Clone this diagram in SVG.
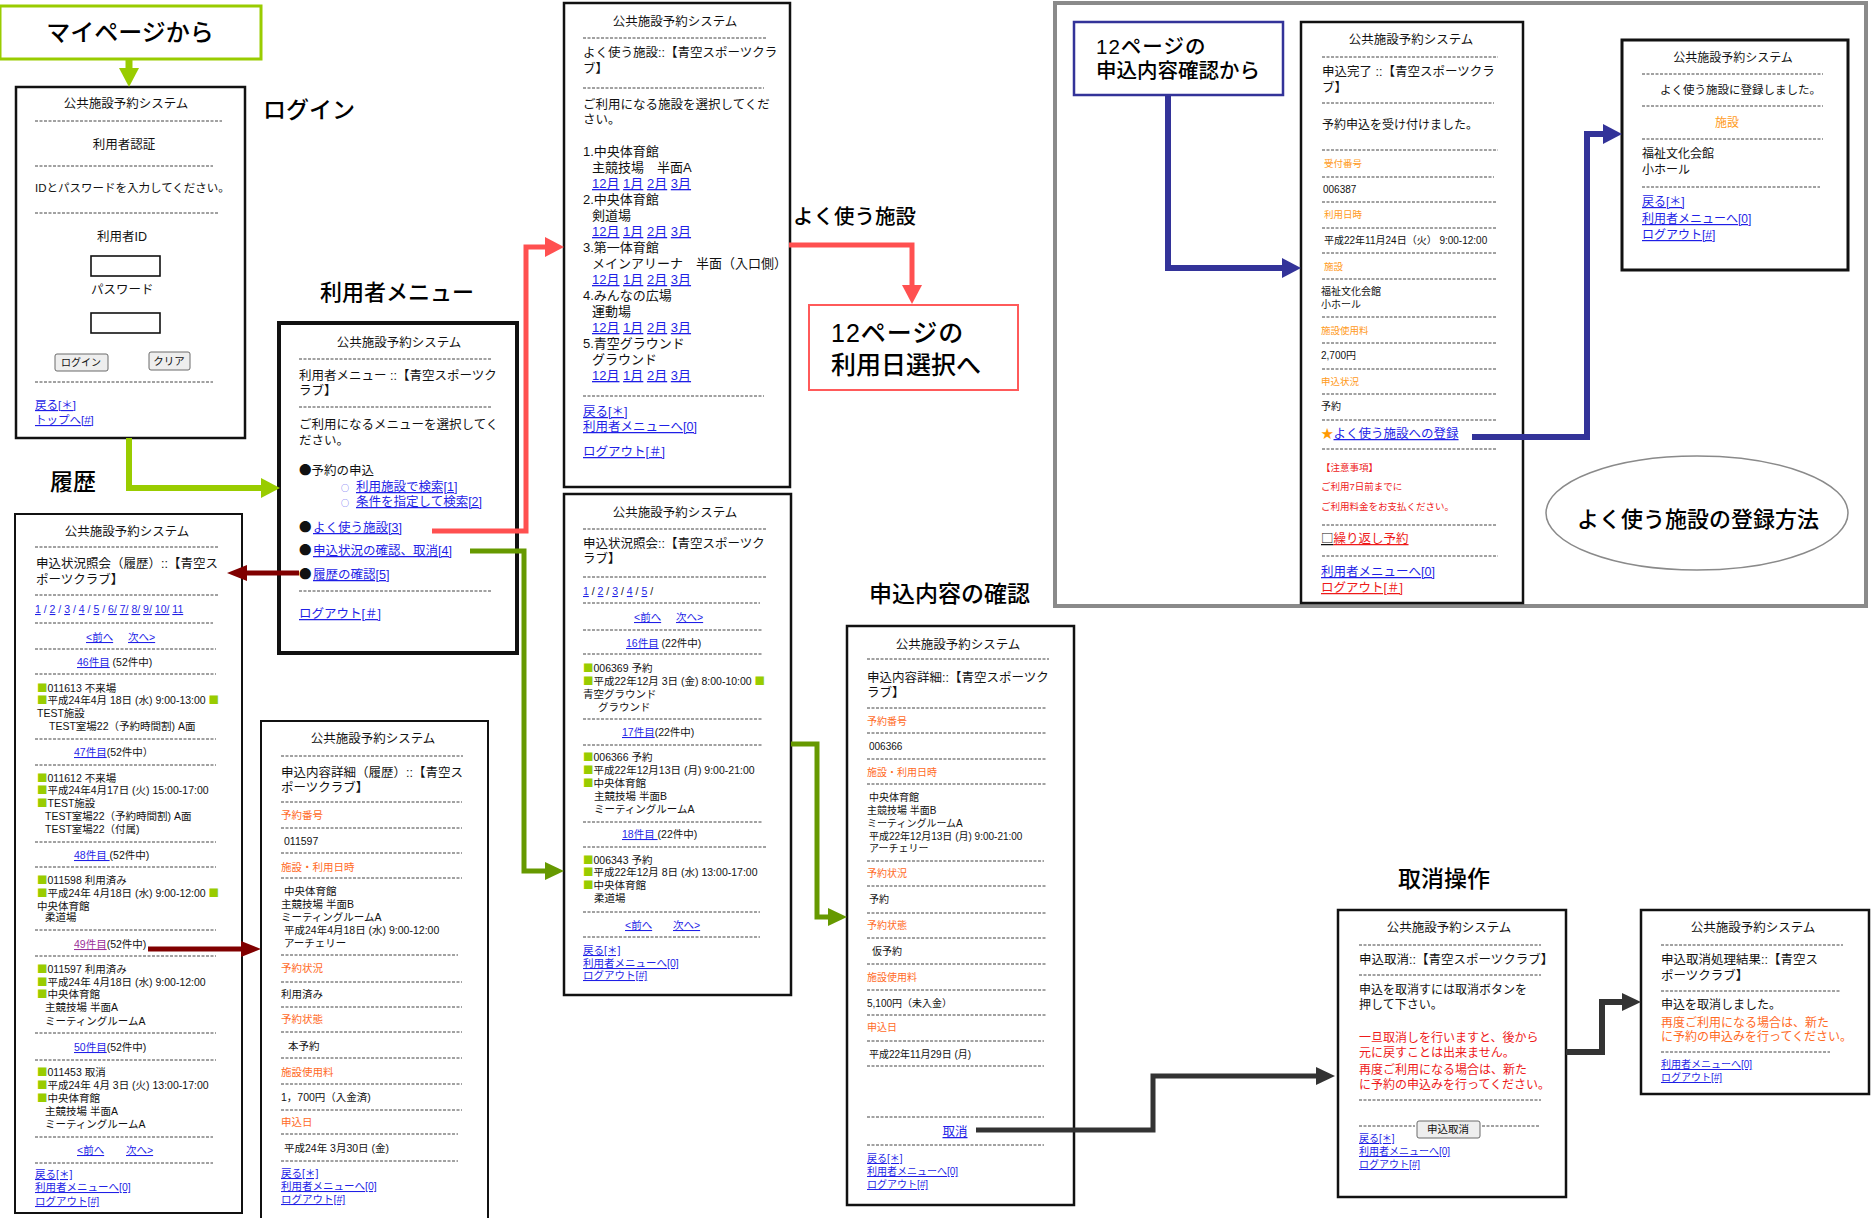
<svg xmlns="http://www.w3.org/2000/svg" width="1874" height="1218" viewBox="0 0 1874 1218">
<style>
text{font-family:"Liberation Sans","Noto Sans CJK JP",sans-serif;fill:#111}
.sym{font-family:"Noto Sans CJK JP",sans-serif}
.lk{fill:#1f1fe6;text-decoration:underline}
.pu{fill:#9a2f9a;text-decoration:underline}
.or{fill:#ff6a1f}
.oy{fill:#ff9a1a}
.rd{fill:#ee1a1a}
.rl{fill:#ee1a1a;text-decoration:underline}
.g{fill:#99cc00;font-family:"Noto Sans CJK JP",sans-serif}
.big{font-size:23px;fill:#000;font-weight:500}
.dash{stroke:#444;stroke-width:1;stroke-dasharray:3 1.5;fill:none}
.box{fill:#fff;stroke:#111}
.inp{fill:#fff;stroke:#111;stroke-width:1.6}
.btn{fill:#eeeeee;stroke:#6a6a6a;stroke-width:1}
.c{fill:none;stroke-linejoin:miter}
</style>
<defs>
<marker id="mG" markerUnits="userSpaceOnUse" markerWidth="20" markerHeight="20" refX="0" refY="10" orient="auto"><path d="M0,0 L19,10 L0,20 z" fill="#99cc00"/></marker>
<marker id="mO" markerUnits="userSpaceOnUse" markerWidth="20" markerHeight="20" refX="0" refY="10" orient="auto"><path d="M0,1 L19,10 L0,19 z" fill="#669900"/></marker>
<marker id="mR" markerUnits="userSpaceOnUse" markerWidth="20" markerHeight="20" refX="0" refY="10" orient="auto"><path d="M0,0 L19,10 L0,20 z" fill="#ff5050"/></marker>
<marker id="mD" markerUnits="userSpaceOnUse" markerWidth="20" markerHeight="16" refX="0" refY="8" orient="auto"><path d="M0,0 L20,8 L0,16 z" fill="#800000"/></marker>
<marker id="mB" markerUnits="userSpaceOnUse" markerWidth="20" markerHeight="20" refX="0" refY="10" orient="auto"><path d="M0,0 L19,10 L0,20 z" fill="#333399"/></marker>
<marker id="mK" markerUnits="userSpaceOnUse" markerWidth="20" markerHeight="20" refX="0" refY="10" orient="auto"><path d="M0,1 L19,10 L0,19 z" fill="#333333"/></marker>
</defs>

<rect x="0" y="0" width="1874" height="1218" fill="#fff"/>

<!-- gray frame -->
<g id="frame">
<rect x="1055" y="3" width="811" height="603" fill="none" stroke="#8a8a8a" stroke-width="4"/>
</g>

<!-- labels -->
<g id="label-mypage">
<rect x="0" y="6" width="261" height="53" fill="#fff" stroke="#99cc00" stroke-width="3"/>
<text x="130" y="41" text-anchor="middle" style="font-size:24px;fill:#000;font-weight:500">マイページから</text>
</g>
<g id="label-login"><text class="big" x="263" y="118">ログイン</text></g>
<g id="label-menu"><text class="big" x="320" y="300" style="font-size:22px">利用者メニュー</text></g>
<g id="label-history"><text class="big" x="50" y="490">履歴</text></g>
<g id="label-fav"><text class="big" x="793" y="224" style="font-size:20.5px">よく使う施設</text></g>
<g id="label-confirm"><text class="big" x="869" y="602">申込内容の確認</text></g>
<g id="label-cancel"><text class="big" x="1398" y="887">取消操作</text></g>
<g id="to-p12">
<rect x="809" y="305" width="209" height="85" fill="#fff" stroke="#ff5a5a" stroke-width="2"/>
<text x="831" y="342" style="font-size:25px;fill:#000;font-weight:500;letter-spacing:1px">12ページの</text>
<text x="831" y="374" style="font-size:25px;fill:#000;font-weight:500">利用日選択へ</text>
</g>
<g id="from-p12">
<rect x="1074" y="22" width="209" height="73" fill="#fff" stroke="#333399" stroke-width="2.5"/>
<text x="1096" y="54" style="font-size:20.5px;fill:#000;font-weight:500;letter-spacing:1px">12ページの</text>
<text x="1096" y="78" style="font-size:20.5px;fill:#000;font-weight:500">申込内容確認から</text>
</g>
<g id="howto">
<ellipse cx="1697" cy="513" rx="151" ry="57" fill="#fff" stroke="#8a8a8a" stroke-width="1.5"/>
<text x="1698" y="527" text-anchor="middle" style="font-size:22px;fill:#000;font-weight:500">よく使う施設の登録方法</text>
</g>

<!-- login -->
<g id="login" font-size="12.5">
<rect class="box" x="16" y="87" width="229" height="351" stroke-width="2.5"/>
<text x="126" y="108" text-anchor="middle">公共施設予約システム</text>
<line class="dash" x1="35" y1="121" x2="222" y2="121"/>
<text x="124" y="149" text-anchor="middle">利用者認証</text>
<line class="dash" x1="35" y1="166" x2="213" y2="166"/>
<text x="35" y="192" font-size="11.5">IDとパスワードを入力してください。</text>
<line class="dash" x1="35" y1="213" x2="218" y2="213"/>
<text x="122" y="241" text-anchor="middle">利用者ID</text>
<rect class="inp" x="91" y="256" width="69" height="20"/>
<text x="91" y="294">パスワード</text>
<rect class="inp" x="91" y="313" width="69" height="20"/>
<rect class="btn" x="55" y="354" width="53" height="17" rx="2"/>
<text x="81" y="366" text-anchor="middle" font-size="10">ログイン</text>
<rect class="btn" x="149" y="352" width="41" height="18" rx="2"/>
<text x="169" y="365" text-anchor="middle" font-size="10.5">クリア</text>
<line class="dash" x1="35" y1="382" x2="213" y2="382"/>
<text class="lk" x="35" y="409" font-size="11.5">戻る[＊]</text>
<text class="lk" x="35" y="424" font-size="11.5">トップへ[#]</text>
</g>

<!-- user menu -->
<g id="menu" font-size="12.5">
<rect class="box" x="279" y="323" width="238" height="330" stroke-width="4"/>
<text x="399" y="347" text-anchor="middle">公共施設予約システム</text>
<line class="dash" x1="299" y1="359" x2="491" y2="359"/>
<text x="299" y="380">利用者メニュー ::【青空スポーツク</text>
<text x="299" y="395">ラブ】</text>
<line class="dash" x1="299" y1="407" x2="491" y2="407"/>
<text x="299" y="429">ご利用になるメニューを選択してく</text>
<text x="299" y="445">ださい。</text>
<text x="299" y="475"><tspan class="sym">●</tspan>予約の申込</text>
<text class="sym" x="341" y="491" font-size="8" style="fill:#3a3aee">○</text>
<text class="lk" x="356" y="491">利用施設で検索[1]</text>
<text class="sym" x="341" y="506" font-size="8" style="fill:#3a3aee">○</text>
<text class="lk" x="356" y="506">条件を指定して検索[2]</text>
<text class="sym" x="299" y="532">●</text><text class="lk" x="313" y="532">よく使う施設[3]</text>
<text class="sym" x="299" y="555">●</text><text class="lk" x="313" y="555">申込状況の確認、取消[4]</text>
<text class="sym" x="299" y="579">●</text><text class="lk" x="313" y="579">履歴の確認[5]</text>
<line class="dash" x1="299" y1="591" x2="491" y2="591"/>
<text class="lk" x="299" y="618">ログアウト[＃]</text>
</g>

<!-- history list -->
<g id="history" font-size="10.5">
<rect class="box" x="15" y="514" width="227" height="699" stroke-width="2"/>
<text x="127" y="536" text-anchor="middle" font-size="12.5">公共施設予約システム</text>
<line class="dash" x1="35" y1="547" x2="218" y2="547"/>
<text x="36" y="568" font-size="12.5">申込状況照会（履歴）::【青空ス</text>
<text x="36" y="584" font-size="12.5">ポーツクラブ】</text>
<line class="dash" x1="35" y1="595" x2="218" y2="595"/>
<text x="35" y="613" style="fill:#1f1fe6"><tspan class="lk">1</tspan> / <tspan class="lk">2</tspan> / <tspan class="lk">3</tspan> / <tspan class="lk">4</tspan> / <tspan class="lk">5</tspan> / <tspan class="lk">6/</tspan> <tspan class="lk">7/</tspan> <tspan class="lk">8/</tspan> <tspan class="lk">9/</tspan> <tspan class="lk">10/</tspan> <tspan class="lk">11</tspan></text>
<line class="dash" x1="35" y1="623" x2="213" y2="623"/>
<text class="lk" x="86" y="641">&lt;前へ</text><text class="lk" x="128" y="641">次へ&gt;</text>
<line class="dash" x1="35" y1="649" x2="216" y2="649"/>
<text x="77" y="666"><tspan class="lk">46件目</tspan> (52件中)</text>
<line class="dash" x1="35" y1="674" x2="216" y2="674"/>
<text x="37" y="692"><tspan class="g">■</tspan>011613  不来場</text>
<text x="37" y="704"><tspan class="g">■</tspan>平成24年4月 18日 (水) 9:00-13:00 <tspan class="g">■</tspan></text>
<text x="37" y="717">TEST施設</text>
<text x="49" y="730">TEST室場22（予約時間割)  A面</text>
<line class="dash" x1="35" y1="739" x2="216" y2="739"/>
<text x="74" y="756"><tspan class="lk">47件目</tspan>(52件中）</text>
<line class="dash" x1="35" y1="765" x2="216" y2="765"/>
<text x="37" y="782"><tspan class="g">■</tspan>011612  不来場</text>
<text x="37" y="794"><tspan class="g">■</tspan>平成24年4月17日 (火) 15:00-17:00</text>
<text x="37" y="807"><tspan class="g">■</tspan>TEST施設</text>
<text x="45" y="820">TEST室場22（予約時間割)  A面</text>
<text x="45" y="833">TEST室場22（付属)</text>
<line class="dash" x1="35" y1="842" x2="216" y2="842"/>
<text x="74" y="859"><tspan class="lk">48件目 </tspan>(52件中)</text>
<line class="dash" x1="35" y1="867" x2="216" y2="867"/>
<text x="37" y="884"><tspan class="g">■</tspan>011598  利用済み</text>
<text x="37" y="897"><tspan class="g">■</tspan>平成24年 4月18日 (水) 9:00-12:00 <tspan class="g">■</tspan></text>
<text x="37" y="910">中央体育館</text>
<text x="45" y="921">柔道場</text>
<line class="dash" x1="35" y1="930" x2="216" y2="930"/>
<text x="74" y="948"><tspan class="pu">49件目</tspan>(52件中)</text>
<line class="dash" x1="35" y1="956" x2="216" y2="956"/>
<text x="37" y="973"><tspan class="g">■</tspan>011597  利用済み</text>
<text x="37" y="986"><tspan class="g">■</tspan>平成24年 4月18日 (水) 9:00-12:00</text>
<text x="37" y="998"><tspan class="g">■</tspan>中央体育館</text>
<text x="45" y="1011">主競技場 半面A</text>
<text x="45" y="1025">ミーティングルームA</text>
<line class="dash" x1="35" y1="1033" x2="216" y2="1033"/>
<text x="74" y="1051"><tspan class="lk">50件目</tspan>(52件中)</text>
<line class="dash" x1="35" y1="1060" x2="216" y2="1060"/>
<text x="37" y="1076"><tspan class="g">■</tspan>011453  取消</text>
<text x="37" y="1089"><tspan class="g">■</tspan>平成24年  4月 3日 (火) 13:00-17:00</text>
<text x="37" y="1102"><tspan class="g">■</tspan>中央体育館</text>
<text x="45" y="1115">主競技場  半面A</text>
<text x="45" y="1128">ミーティングルームA</text>
<line class="dash" x1="35" y1="1137" x2="213" y2="1137"/>
<text class="lk" x="77" y="1154">&lt;前へ</text><text class="lk" x="126" y="1154">次へ&gt;</text>
<line class="dash" x1="35" y1="1163" x2="213" y2="1163"/>
<text class="lk" x="35" y="1178">戻る[＊]</text>
<text class="lk" x="35" y="1191">利用者メニューへ[0]</text>
<text class="lk" x="35" y="1205">ログアウト[#]</text>
</g>

<!-- history detail -->
<g id="history-detail" font-size="10.5">
<rect class="box" x="261" y="721" width="227" height="510" stroke-width="2"/>
<text x="373" y="743" text-anchor="middle" font-size="12.5">公共施設予約システム</text>
<line class="dash" x1="281" y1="756" x2="463" y2="756"/>
<text x="281" y="777" font-size="12.5">申込内容詳細（履歴）::【青空ス</text>
<text x="281" y="792" font-size="12.5">ポーツクラブ】</text>
<line class="dash" x1="281" y1="802" x2="462" y2="802"/>
<text class="or" x="281" y="819">予約番号</text>
<line class="dash" x1="281" y1="828" x2="462" y2="828"/>
<text x="284" y="845">011597</text>
<line class="dash" x1="281" y1="853" x2="462" y2="853"/>
<text class="or" x="281" y="871">施設・利用日時</text>
<line class="dash" x1="281" y1="878" x2="462" y2="878"/>
<text x="284" y="895">中央体育館</text>
<text x="281" y="908">主競技場 半面B</text>
<text x="281" y="921">ミーティングルームA</text>
<text x="284" y="934">平成24年4月18日 (水)  9:00-12:00</text>
<text x="284" y="947">アーチェリー</text>
<line class="dash" x1="281" y1="955" x2="458" y2="955"/>
<text class="or" x="281" y="972">予約状況</text>
<line class="dash" x1="281" y1="982" x2="462" y2="982"/>
<text x="281" y="998">利用済み</text>
<line class="dash" x1="281" y1="1007" x2="462" y2="1007"/>
<text class="or" x="281" y="1023">予約状態</text>
<line class="dash" x1="281" y1="1032" x2="462" y2="1032"/>
<text x="288" y="1050">本予約</text>
<line class="dash" x1="281" y1="1058" x2="462" y2="1058"/>
<text class="or" x="281" y="1076">施設使用料</text>
<line class="dash" x1="281" y1="1084" x2="462" y2="1084"/>
<text x="281" y="1101">1，700円（入金済)</text>
<line class="dash" x1="281" y1="1110" x2="462" y2="1110"/>
<text class="or" x="281" y="1126">申込日</text>
<line class="dash" x1="281" y1="1134" x2="458" y2="1134"/>
<text x="284" y="1152">平成24年 3月30日 (金)</text>
<line class="dash" x1="281" y1="1161" x2="458" y2="1161"/>
<text class="lk" x="281" y="1177">戻る[＊]</text>
<text class="lk" x="281" y="1190">利用者メニューへ[0]</text>
<text class="lk" x="281" y="1203">ログアウト[#]</text>
</g>

<!-- favourite facilities -->
<g id="favorites" font-size="13">
<rect class="box" x="564" y="3" width="226" height="484" stroke-width="2.5"/>
<text x="675" y="26" text-anchor="middle" font-size="12.5">公共施設予約システム</text>
<line class="dash" x1="583" y1="38" x2="766" y2="38"/>
<text x="583" y="57" font-size="12.5">よく使う施設::【青空スポーツクラ</text>
<text x="583" y="73" font-size="12.5">ブ】</text>
<line class="dash" x1="583" y1="88" x2="764" y2="88"/>
<text x="583" y="109" font-size="12.5">ご利用になる施設を選択してくだ</text>
<text x="583" y="124" font-size="12.5">さい。</text>
<text x="583" y="156">1.中央体育館</text>
<text x="592" y="172">主競技場　半面A</text>
<text x="592" y="188"><tspan class="lk">12月</tspan> <tspan class="lk">1月</tspan> <tspan class="lk">2月</tspan> <tspan class="lk">3月</tspan></text>
<text x="583" y="204">2.中央体育館</text>
<text x="592" y="220">剣道場</text>
<text x="592" y="236"><tspan class="lk">12月</tspan> <tspan class="lk">1月</tspan> <tspan class="lk">2月</tspan> <tspan class="lk">3月</tspan></text>
<text x="583" y="252">3.第一体育館</text>
<text x="592" y="268">メインアリーナ　半面（入口側）</text>
<text x="592" y="284"><tspan class="lk">12月</tspan> <tspan class="lk">1月</tspan> <tspan class="lk">2月</tspan> <tspan class="lk">3月</tspan></text>
<text x="583" y="300">4.みんなの広場</text>
<text x="592" y="316">運動場</text>
<text x="592" y="332"><tspan class="lk">12月</tspan> <tspan class="lk">1月</tspan> <tspan class="lk">2月</tspan> <tspan class="lk">3月</tspan></text>
<text x="583" y="348">5.青空グラウンド</text>
<text x="592" y="364">グラウンド</text>
<text x="592" y="380"><tspan class="lk">12月</tspan> <tspan class="lk">1月</tspan> <tspan class="lk">2月</tspan> <tspan class="lk">3月</tspan></text>
<line class="dash" x1="583" y1="396" x2="764" y2="396"/>
<text class="lk" x="583" y="416" font-size="12.5">戻る[＊]</text>
<text class="lk" x="583" y="431" font-size="12.5">利用者メニューへ[0]</text>
<text class="lk" x="583" y="456" font-size="12.5">ログアウト[＃]</text>
</g>

<!-- application status list -->
<g id="status" font-size="10.5">
<rect class="box" x="564" y="494" width="227" height="501" stroke-width="2.5"/>
<text x="675" y="517" text-anchor="middle" font-size="12.5">公共施設予約システム</text>
<line class="dash" x1="583" y1="529" x2="766" y2="529"/>
<text x="583" y="548" font-size="12.5">申込状況照会::【青空スポーツク</text>
<text x="583" y="563" font-size="12.5">ラブ】</text>
<line class="dash" x1="583" y1="577" x2="766" y2="577"/>
<text x="583" y="595"><tspan class="lk">1</tspan> / <tspan class="lk">2</tspan> / <tspan class="lk">3</tspan> / <tspan class="lk">4</tspan> / <tspan class="lk">5</tspan> /</text>
<line class="dash" x1="583" y1="603" x2="760" y2="603"/>
<text class="lk" x="634" y="621">&lt;前へ</text><text class="lk" x="676" y="621">次へ&gt;</text>
<line class="dash" x1="583" y1="630" x2="763" y2="630"/>
<text x="626" y="647"><tspan class="lk">16件目</tspan> (22件中)</text>
<line class="dash" x1="583" y1="654" x2="763" y2="654"/>
<text x="583" y="672"><tspan class="g">■</tspan>006369 予約</text>
<text x="583" y="685"><tspan class="g">■</tspan>平成22年12月  3日 (金) 8:00-10:00 <tspan class="g">■</tspan></text>
<text x="583" y="698">青空グラウンド</text>
<text x="598" y="711">グラウンド</text>
<line class="dash" x1="583" y1="719" x2="763" y2="719"/>
<text x="622" y="736"><tspan class="lk">17件目</tspan>(22件中)</text>
<line class="dash" x1="583" y1="745" x2="763" y2="745"/>
<text x="583" y="761"><tspan class="g">■</tspan>006366  予約</text>
<text x="583" y="774"><tspan class="g">■</tspan>平成22年12月13日  (月) 9:00-21:00</text>
<text x="583" y="787"><tspan class="g">■</tspan>中央体育館</text>
<text x="594" y="800">主競技場 半面B</text>
<text x="594" y="813">ミーティングルームA</text>
<line class="dash" x1="583" y1="822" x2="763" y2="822"/>
<text x="622" y="838"><tspan class="lk">18件目 </tspan>(22件中)</text>
<line class="dash" x1="583" y1="847" x2="767" y2="847"/>
<text x="583" y="864"><tspan class="g">■</tspan>006343  予約</text>
<text x="583" y="876"><tspan class="g">■</tspan>平成22年12月  8日 (水) 13:00-17:00</text>
<text x="583" y="889"><tspan class="g">■</tspan>中央体育館</text>
<text x="594" y="902">柔道場</text>
<line class="dash" x1="583" y1="912" x2="760" y2="912"/>
<text class="lk" x="625" y="929">&lt;前へ</text><text class="lk" x="673" y="929">次へ&gt;</text>
<line class="dash" x1="583" y1="937" x2="760" y2="937"/>
<text class="lk" x="583" y="954">戻る[＊]</text>
<text class="lk" x="583" y="967">利用者メニューへ[0]</text>
<text class="lk" x="583" y="979">ログアウト[#]</text>
</g>

<!-- application detail -->
<g id="detail" font-size="10">
<rect class="box" x="847" y="626" width="227" height="579" stroke-width="2.5"/>
<text x="958" y="649" text-anchor="middle" font-size="12.5">公共施設予約システム</text>
<line class="dash" x1="867" y1="659" x2="1049" y2="659"/>
<text x="867" y="682" font-size="12.5">申込内容詳細::【青空スポーツク</text>
<text x="867" y="697" font-size="12.5">ラブ】</text>
<line class="dash" x1="867" y1="708" x2="1047" y2="708"/>
<text class="or" x="867" y="725">予約番号</text>
<line class="dash" x1="867" y1="733" x2="1047" y2="733"/>
<text x="869" y="750">006366</text>
<line class="dash" x1="867" y1="759" x2="1047" y2="759"/>
<text class="or" x="867" y="776">施設・利用日時</text>
<line class="dash" x1="867" y1="784" x2="1047" y2="784"/>
<text x="869" y="801">中央体育館</text>
<text x="867" y="814">主競技場 半面B</text>
<text x="867" y="827">ミーティングルームA</text>
<text x="869" y="840">平成22年12月13日 (月)  9:00-21:00</text>
<text x="869" y="852">アーチェリー</text>
<line class="dash" x1="867" y1="861" x2="1044" y2="861"/>
<text class="or" x="867" y="877">予約状況</text>
<line class="dash" x1="867" y1="886" x2="1047" y2="886"/>
<text x="869" y="903">予約</text>
<line class="dash" x1="867" y1="913" x2="1047" y2="913"/>
<text class="or" x="867" y="929">予約状態</text>
<line class="dash" x1="867" y1="938" x2="1047" y2="938"/>
<text x="872" y="955">仮予約</text>
<line class="dash" x1="867" y1="964" x2="1047" y2="964"/>
<text class="or" x="867" y="981">施設使用料</text>
<line class="dash" x1="867" y1="990" x2="1047" y2="990"/>
<text x="867" y="1007">5,100円（未入金）</text>
<line class="dash" x1="867" y1="1015" x2="1047" y2="1015"/>
<text class="or" x="867" y="1031">申込日</text>
<line class="dash" x1="867" y1="1041" x2="1044" y2="1041"/>
<text x="869" y="1058">平成22年11月29日 (月)</text>
<line class="dash" x1="867" y1="1066" x2="1044" y2="1066"/>
<line class="dash" x1="867" y1="1117" x2="1044" y2="1117"/>
<text class="lk" x="955" y="1136" text-anchor="middle" font-size="12.5">取消</text>
<line class="dash" x1="867" y1="1145" x2="1044" y2="1145"/>
<text class="lk" x="867" y="1162">戻る[＊]</text>
<text class="lk" x="867" y="1175">利用者メニューへ[0]</text>
<text class="lk" x="867" y="1188">ログアウト[#]</text>
</g>

<!-- application complete -->
<g id="complete" font-size="10">
<rect class="box" x="1301" y="22" width="222" height="581" stroke-width="2.5"/>
<text x="1411" y="44" text-anchor="middle" font-size="12.5">公共施設予約システム</text>
<line class="dash" x1="1322" y1="57" x2="1498" y2="57"/>
<text x="1322" y="76" font-size="12.5">申込完了 ::【青空スポーツクラ</text>
<text x="1322" y="92" font-size="12.5">ブ】</text>
<line class="dash" x1="1322" y1="103" x2="1494" y2="103"/>
<text x="1322" y="129" font-size="12">予約申込を受け付けました。</text>
<line class="dash" x1="1322" y1="150" x2="1498" y2="150"/>
<text class="oy" x="1324" y="167" font-size="9.5">受付番号</text>
<line class="dash" x1="1322" y1="177" x2="1494" y2="177"/>
<text x="1323" y="193">006387</text>
<line class="dash" x1="1322" y1="202" x2="1497" y2="202"/>
<text class="oy" x="1324" y="218" font-size="9.5">利用日時</text>
<line class="dash" x1="1322" y1="228" x2="1497" y2="228"/>
<text x="1324" y="244">平成22年11月24日（火） 9:00-12:00</text>
<line class="dash" x1="1322" y1="253" x2="1497" y2="253"/>
<text class="oy" x="1324" y="270" font-size="9.5">施設</text>
<line class="dash" x1="1322" y1="279" x2="1497" y2="279"/>
<text x="1321" y="295">福祉文化会館</text>
<text x="1321" y="308">小ホール</text>
<line class="dash" x1="1322" y1="317" x2="1497" y2="317"/>
<text class="oy" x="1321" y="334" font-size="9.5">施設使用料</text>
<line class="dash" x1="1322" y1="343" x2="1497" y2="343"/>
<text x="1321" y="359">2,700円</text>
<line class="dash" x1="1322" y1="369" x2="1497" y2="369"/>
<text class="oy" x="1321" y="385" font-size="9.5">申込状況</text>
<line class="dash" x1="1322" y1="394" x2="1497" y2="394"/>
<text x="1321" y="410">予約</text>
<line class="dash" x1="1322" y1="420" x2="1497" y2="420"/>
<text x="1321" y="438" font-size="12.5"><tspan class="sym" style="fill:#ff9900">★</tspan><tspan class="lk">よく使う施設への登録</tspan></text>
<line class="dash" x1="1322" y1="449" x2="1497" y2="449"/>
<text class="rd" x="1321" y="471" font-size="9.5">【注意事項】</text>
<text class="rd" x="1321" y="490" font-size="9.5">ご利用7日前までに</text>
<text class="rd" x="1321" y="510" font-size="9.5">ご利用料金をお支払ください。</text>
<line class="dash" x1="1322" y1="525" x2="1497" y2="525"/>
<text x="1321" y="543" font-size="12.5"><tspan class="sym" style="text-decoration:underline">□</tspan><tspan class="rl">繰り返し予約</tspan></text>
<line class="dash" x1="1322" y1="556" x2="1498" y2="556"/>
<text class="lk" x="1321" y="576" font-size="12.5">利用者メニューへ[0]</text>
<text class="rl" x="1321" y="592" font-size="12.5">ログアウト[＃]</text>
</g>

<!-- favourite registered -->
<g id="registered" font-size="12">
<rect class="box" x="1622" y="40" width="226" height="230" stroke-width="3"/>
<text x="1733" y="62" text-anchor="middle">公共施設予約システム</text>
<line class="dash" x1="1642" y1="74" x2="1823" y2="74"/>
<text x="1660" y="94" font-size="11.5">よく使う施設に登録しました。</text>
<line class="dash" x1="1642" y1="106" x2="1823" y2="106"/>
<text class="oy" x="1727" y="127" text-anchor="middle">施設</text>
<line class="dash" x1="1642" y1="139" x2="1823" y2="139"/>
<text x="1642" y="158">福祉文化会館</text>
<text x="1642" y="174">小ホール</text>
<line class="dash" x1="1642" y1="187" x2="1820" y2="187"/>
<text class="lk" x="1642" y="206">戻る[＊]</text>
<text class="lk" x="1642" y="223">利用者メニューへ[0]</text>
<text class="lk" x="1642" y="239">ログアウト[#]</text>
</g>

<!-- cancel -->
<g id="cancel" font-size="12">
<rect class="box" x="1338" y="910" width="228" height="287" stroke-width="2.5"/>
<text x="1449" y="932" text-anchor="middle" font-size="12.5">公共施設予約システム</text>
<line class="dash" x1="1359" y1="945" x2="1541" y2="945"/>
<text x="1359" y="964" font-size="12.5">申込取消::【青空スポーツクラブ】</text>
<line class="dash" x1="1359" y1="975" x2="1541" y2="975"/>
<text x="1359" y="994">申込を取消すには取消ボタンを</text>
<text x="1359" y="1009">押して下さい。</text>
<text class="rd" x="1359" y="1042">一旦取消しを行いますと、後から</text>
<text class="rd" x="1359" y="1057">元に戻すことは出来ません。</text>
<text class="rd" x="1359" y="1074">再度ご利用になる場合は、新た</text>
<text class="rd" x="1359" y="1089">に予約の申込みを行ってください。</text>
<line class="dash" x1="1359" y1="1100" x2="1541" y2="1100"/>
<line class="dash" x1="1359" y1="1126" x2="1415" y2="1126"/>
<rect class="btn" x="1417" y="1121" width="63" height="17" rx="2"/>
<text x="1448" y="1133" text-anchor="middle" font-size="10.5">申込取消</text>
<line class="dash" x1="1482" y1="1126" x2="1540" y2="1126"/>
<text class="lk" x="1359" y="1142" font-size="10">戻る[＊]</text>
<text class="lk" x="1359" y="1155" font-size="10">利用者メニューへ[0]</text>
<text class="lk" x="1359" y="1168" font-size="10">ログアウト[#]</text>
</g>

<!-- cancel result -->
<g id="cancel-result" font-size="12">
<rect class="box" x="1641" y="910" width="228" height="184" stroke-width="2.5"/>
<text x="1753" y="932" text-anchor="middle" font-size="12.5">公共施設予約システム</text>
<line class="dash" x1="1661" y1="945" x2="1843" y2="945"/>
<text x="1661" y="964" font-size="12.5">申込取消処理結果::【青空ス</text>
<text x="1661" y="980" font-size="12.5">ポーツクラブ】</text>
<line class="dash" x1="1661" y1="991" x2="1841" y2="991"/>
<text x="1661" y="1009">申込を取消しました。</text>
<text class="or" x="1661" y="1027">再度ご利用になる場合は、新た</text>
<text class="or" x="1661" y="1041">に予約の申込みを行ってください。</text>
<line class="dash" x1="1661" y1="1052" x2="1830" y2="1052"/>
<text class="lk" x="1661" y="1068" font-size="10">利用者メニューへ[0]</text>
<text class="lk" x="1661" y="1081" font-size="10">ログアウト[#]</text>
</g>

<!-- connectors -->
<g id="connectors" class="c">
<path d="M129,59 V68" stroke="#99cc00" stroke-width="7" marker-end="url(#mG)"/>
<path d="M129,438 V488 H261" stroke="#99cc00" stroke-width="6" marker-end="url(#mG)"/>
<path d="M432,531 H526 V247 H545" stroke="#ff5050" stroke-width="5" marker-end="url(#mR)"/>
<path d="M789,245 H912 V285" stroke="#ff5050" stroke-width="5" marker-end="url(#mR)"/>
<path d="M470,551 H524 V871 H545" stroke="#669900" stroke-width="5" marker-end="url(#mO)"/>
<path d="M791,744 H817 V917 H828" stroke="#669900" stroke-width="5" marker-end="url(#mO)"/>
<path d="M299,573 H247" stroke="#800000" stroke-width="5" marker-end="url(#mD)"/>
<path d="M148,949 H241" stroke="#800000" stroke-width="5" marker-end="url(#mD)"/>
<path d="M1168,95 V268 H1282" stroke="#333399" stroke-width="6" marker-end="url(#mB)"/>
<path d="M1472,437 H1587 V134 H1603" stroke="#333399" stroke-width="6" marker-end="url(#mB)"/>
<path d="M976,1130 H1153 V1076 H1316" stroke="#333333" stroke-width="5" marker-end="url(#mK)"/>
<path d="M1566,1052 H1602 V1002 H1622" stroke="#333333" stroke-width="6" marker-end="url(#mK)"/>
</g>
</svg>
